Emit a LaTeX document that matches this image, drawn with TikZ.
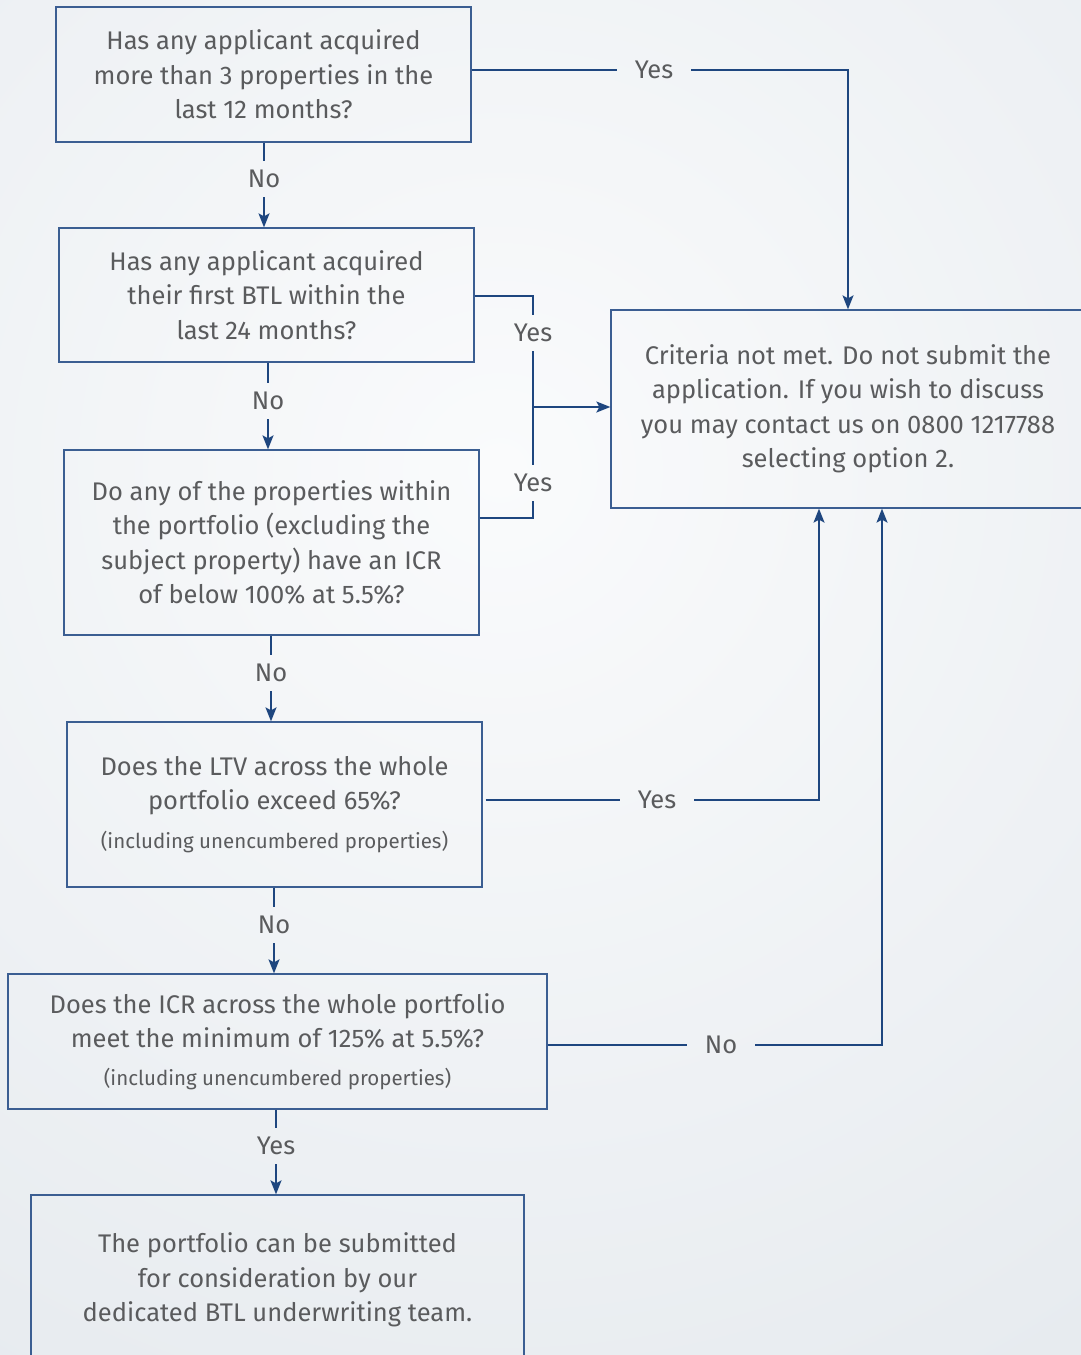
\documentclass[tikz,border=0pt]{standalone}
\usepackage{fontspec}
\setmainfont{Fira Sans}
\usetikzlibrary{arrows.meta}
\definecolor{linec}{HTML}{1E467F}
\definecolor{boxc}{HTML}{3B5E92}
\definecolor{txtc}{HTML}{5A5B5D}
\definecolor{bgout}{HTML}{E2E7EC}
\definecolor{bgin}{HTML}{FAFBFC}
\newcommand\mainfs{\fontsize{25.5}{34.5}\selectfont}
\newcommand\smallfs{\fontsize{20.5}{28}\selectfont}
\begin{document}
\begin{tikzpicture}[x=1pt,y=-1pt,
  qbox/.style={draw=boxc, line width=1.3pt, text=txtc, align=center, font=\mainfs, inner sep=0pt},
  vlbl/.style={text=txtc, font=\mainfs, inner xsep=2pt, inner ysep=9pt},
  hlbl/.style={text=txtc, font=\mainfs, inner xsep=18pt, inner ysep=2pt},
  conn/.style={draw=linec, line width=1.5pt},
  arr/.style={conn, -{Stealth[length=14pt,width=11pt,inset=3pt]}}]
\useasboundingbox (0,0) rectangle (1081,1355);
\clip (0,0) rectangle (1081,1355);
\fill[bgout] (0,0) rectangle (1081,1355);
\shade[inner color=bgin, outer color=bgout] (500,470) circle (1300);

% boxes
\node[qbox, minimum width=415pt, minimum height=135pt] (b1) at (263.5,74.5)
  {Has any applicant acquired\\more than 3 properties in the\\last 12 months?};
\node[qbox, minimum width=415pt, minimum height=134pt] (b2) at (266.5,295)
  {Has any applicant acquired\\their first BTL within the\\last 24 months?};
\node[qbox, minimum width=415pt, minimum height=185pt] (b3) at (271.5,542.5)
  {Do any of the properties within\\the portfolio (excluding the\\subject property) have an ICR\\of below 100\% at 5.5\%?};
\node[qbox, minimum width=415pt, minimum height=165pt] (b4) at (274.5,804.5)
  {Does the LTV across the whole\\portfolio exceed 65\%?\\[4.5pt]{\smallfs (including unencumbered properties)}};
\node[qbox, minimum width=539pt, minimum height=135pt] (b5) at (277.5,1041.5)
  {Does the ICR across the whole portfolio\\meet the minimum of 125\% at 5.5\%?\\[3.5pt]{\smallfs (including unencumbered properties)}};
\node[qbox, minimum width=493pt, minimum height=170pt] (b6) at (277.5,1280)
  {The portfolio can be submitted\\for consideration by our\\dedicated BTL underwriting team.};
\node[qbox, minimum width=474pt, minimum height=198pt] (rb) at (848,409)
  {Criteria not met. Do not submit the\\application. If you wish to discuss\\you may contact us on 0800 1217788\\selecting option 2.};

% labels
\node[vlbl] (no1) at (264,179) {No};
\node[vlbl] (no2) at (268,401) {No};
\node[vlbl] (no3) at (271,673) {No};
\node[vlbl] (no4) at (274,925) {No};
\node[vlbl] (yes5) at (276,1146) {Yes};
\node[hlbl] (yes1) at (654,70) {Yes};
\node[vlbl] (yes2) at (533,333) {Yes};
\node[vlbl] (yes3) at (533,483) {Yes};
\node[hlbl] (yes4) at (657,800) {Yes};
\node[hlbl] (no5) at (721,1045) {No};

\coordinate (c1) at (848,70);
\coordinate (j1) at (533,296);
\coordinate (j2) at (533,518);
\coordinate (jm) at (533,407);
\coordinate (c4) at (819,800);
\coordinate (c5) at (882,1045);

% vertical chain
\draw[conn] (no1.north |- b1.south) -- (no1.north);
\draw[arr] (no1.south) -- (no1.south |- b2.north);
\draw[conn] (no2.north |- b2.south) -- (no2.north);
\draw[arr] (no2.south) -- (no2.south |- b3.north);
\draw[conn] (no3.north |- b3.south) -- (no3.north);
\draw[arr] (no3.south) -- (no3.south |- b4.north);
\draw[conn] (no4.north |- b4.south) -- (no4.north);
\draw[arr] (no4.south) -- (no4.south |- b5.north);
\draw[conn] (yes5.north |- b5.south) -- (yes5.north);
\draw[arr] (yes5.south) -- (yes5.south |- b6.north);

% yes branches
\draw[conn] (b1.east |- c1) -- (yes1.west);
\draw[arr] (yes1.east) -- (c1) -- (c1 |- rb.north);
\draw[conn] (b2.east |- j1) -- (j1) -- (yes2.north);
\draw[conn] (b3.east |- j2) -- (j2) -- (yes3.south);
\draw[conn] (yes2.south) -- (yes3.north);
\draw[arr] (jm) -- (rb.west |- jm);
\draw[conn] (b4.east |- c4) ++(3,0) -- (yes4.west);
\draw[arr] (yes4.east) -- (c4) -- (c4 |- rb.south);
\draw[conn] (b5.east |- c5) -- (no5.west);
\draw[arr] (no5.east) -- (c5) -- (c5 |- rb.south);
\end{tikzpicture}
\end{document}
